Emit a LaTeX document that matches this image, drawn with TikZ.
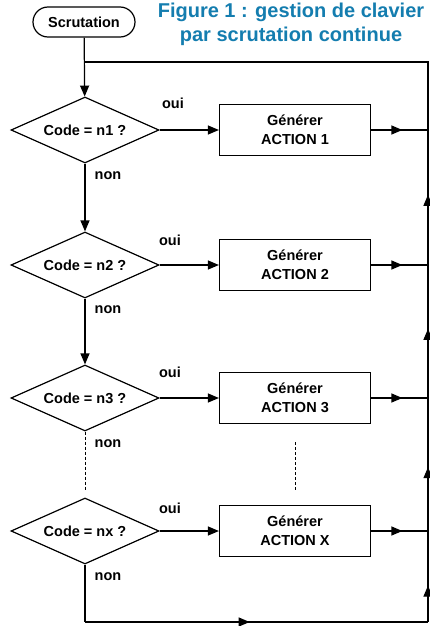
\documentclass[tikz,border=0pt]{standalone}
\usepackage{fontspec}
\setmainfont{Liberation Sans}
\usetikzlibrary{arrows.meta,shapes.geometric,decorations.markings}
\definecolor{titleblue}{RGB}{20,125,175}

\begin{document}
\begin{tikzpicture}[x=1pt,y=-1pt,line width=1.2pt,
  txt/.style={font=\fontsize{14.5}{19}\selectfont\bfseries},
  start/.style={draw,rounded corners=15pt,minimum width=102pt,minimum height=30pt,inner sep=0pt,txt},
  test/.style={draw,diamond,aspect=2.25,minimum width=148pt,minimum height=66pt,inner sep=0pt,txt},
  action/.style={draw,minimum width=151pt,minimum height=51pt,align=center,txt},
  tip/.style={-{Triangle[length=11pt,width=9pt]}},
  midtip/.style={postaction={decorate},decoration={markings,
    mark=at position #1 with {\arrow{Triangle[length=11pt,width=9pt]}}}},
  gap/.style={dash pattern=on 3pt off 2pt,line width=0.9pt}]
\useasboundingbox (0,0) rectangle (430,626);
\node[text=titleblue,align=center,inner sep=0pt,font=\fontsize{20}{24}\selectfont\bfseries] (title) at (291,24)
  {Figure 1 : gestion de clavier\\par scrutation continue};
\node[start] (scrut) at (84,22) {Scrutation};
% tests
\node[test] (d1) at (85,130) {Code = n1 ?};
\node[test] (d2) at (85,265) {Code = n2 ?};
\node[test] (d3) at (85,398) {Code = n3 ?};
\node[test] (dx) at (85,531) {Code = nx ?};
% actions
\node[action] (a1) at (295,130) {Générer\\ACTION 1};
\node[action] (a2) at (295,265) {Générer\\ACTION 2};
\node[action] (a3) at (295,398) {Générer\\ACTION 3};
\node[action] (ax) at (295,531) {Générer\\ACTION X};
% labels
\node[txt] (oui1) at (173,103) {oui};
\node[txt] (oui2) at (170,240) {oui};
\node[txt] (oui3) at (170,372) {oui};
\node[txt] (ouix) at (170,508) {oui};
\node[txt] (non1) at (108,176) {non};
\node[txt] (non2) at (108,310) {non};
\node[txt] (non3) at (108,444) {non};
\node[txt] (nonx) at (108,577) {non};
% loop corners
\coordinate (top) at (85,62);
\coordinate (tr) at (428,62);
\coordinate (br) at (428,622);
\coordinate (bl) at (85,622);
\draw[tip] (scrut) -- (d1);
\draw (top) -- (tr) -- (a1 -| tr);
\draw[tip] (d1) -- (d2);
\draw[tip] (d2) -- (d3);
\draw[gap,shorten >=6pt] (d3) -- (dx);
\draw[tip] (d1) -- (a1);
\draw[tip] (d2) -- (a2);
\draw[tip] (d3) -- (a3);
\draw[tip] (dx) -- (ax);
\draw[gap,shorten <=18pt,shorten >=15pt] (a3) -- (ax);
\draw[midtip=0.55] (a1) -- (a1 -| tr);
\draw[midtip=0.55] (a2) -- (a2 -| tr);
\draw[midtip=0.55] (a3) -- (a3 -| tr);
\draw[midtip=0.55] (ax) -- (ax -| tr);
\draw[midtip=0.52] (a2 -| tr) -- (a1 -| tr);
\draw[midtip=0.52] (a3 -| tr) -- (a2 -| tr);
\draw[midtip=0.48] (ax -| tr) -- (a3 -| tr);
\draw[midtip=0.4] (br) -- (ax -| tr);
\draw (dx) -- (bl);
\draw[midtip=0.48] (bl) -- (br);
\end{tikzpicture}
\end{document}
